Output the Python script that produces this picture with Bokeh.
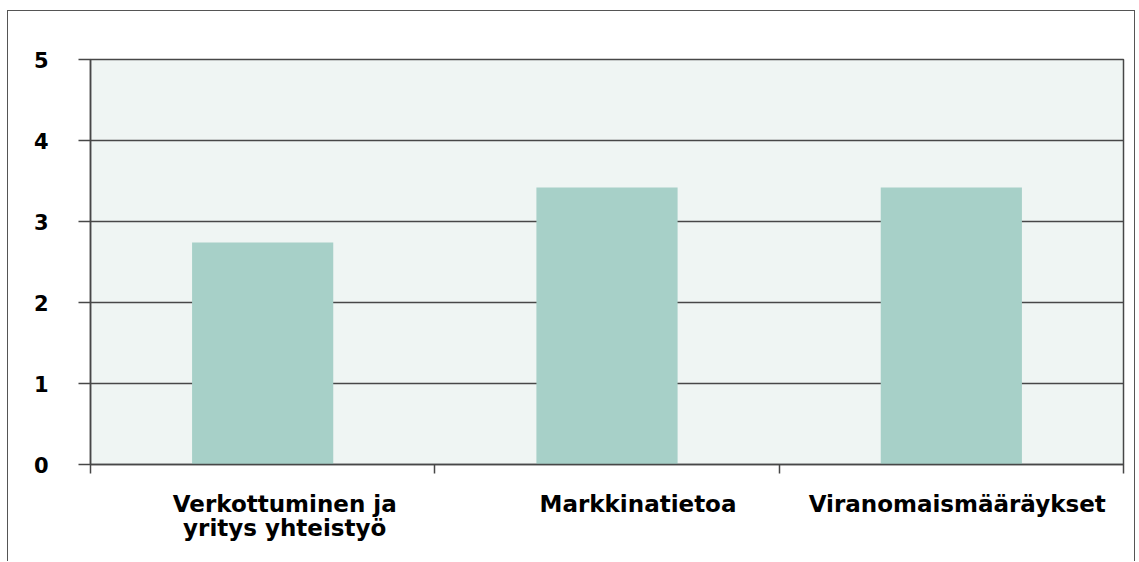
from bokeh.plotting import figure
from bokeh.models import FixedTicker, Range1d, ColumnDataSource
from bokeh.embed import file_html
from bokeh.resources import INLINE

# ---- data ----
categories = ["Verkottuminen ja\nyritys yhteistyö", "Markkinatietoa", "Viranomaismääräykset"]
values = [2.74, 3.42, 3.42]
y_ticks = [0, 1, 2, 3, 4, 5]

# ---- styling ----
FONT = "DejaVu Sans"
GRID = "#474747"
BAR = "#A7D0C8"
BG = "#EFF5F3"

n = len(categories)
x_centers = [i + 0.5 for i in range(n)]
label_offsets = [0.564, 0.590, 0.517]
label_x = [i + off for i, off in enumerate(label_offsets)]

p = figure(width=1128, height=551, output_backend="svg", toolbar_location=None,
           x_range=Range1d(0, n), y_range=Range1d(0, max(y_ticks)),
           min_border_left=82, min_border_right=13, min_border_top=48, min_border_bottom=98)
p.margin = (10, 0, 0, 7)
p.styles = {"border-left": "1px solid #555", "border-top": "1px solid #555",
            "border-right": "1px solid #555"}

p.background_fill_color = BG
p.border_fill_color = "white"
p.outline_line_color = GRID
p.outline_line_width = 1.5

src = ColumnDataSource(dict(x=x_centers, top=values))
p.vbar(x="x", top="top", width=0.41, bottom=0, source=src, fill_color=BAR, line_color=None)

# grid
p.xgrid.visible = False
p.ygrid.ticker = FixedTicker(ticks=y_ticks)
p.ygrid.grid_line_color = GRID
p.ygrid.grid_line_width = 1.5
p.ygrid.level = "underlay"

# y axis
ya = p.yaxis[0]
ya.ticker = FixedTicker(ticks=y_ticks)
ya.axis_line_color = GRID
ya.axis_line_width = 1.5
ya.major_tick_line_color = GRID
ya.major_tick_line_width = 1.5
ya.major_tick_out = 12
ya.major_tick_in = 0
ya.minor_tick_line_color = None
ya.major_label_standoff = 30
ya.major_label_text_font = FONT
ya.major_label_text_font_style = "bold"
ya.major_label_text_font_size = "21px"
ya.major_label_text_color = "black"

# x axis: boundary ticks as minor ticks, labels at label positions
xa = p.xaxis[0]
xa.ticker = FixedTicker(ticks=label_x, minor_ticks=list(range(n + 1)))
xa.major_label_overrides = {x: c for x, c in zip(label_x, categories)}
xa.axis_line_color = GRID
xa.axis_line_width = 1.5
xa.major_tick_line_color = None
xa.major_tick_out = 0
xa.major_tick_in = 0
xa.minor_tick_line_color = GRID
xa.minor_tick_line_width = 1.5
xa.minor_tick_out = 9
xa.minor_tick_in = 0
xa.major_label_standoff = 17
xa.major_label_text_font = FONT
xa.major_label_text_font_style = "bold"
xa.major_label_text_font_size = "23px"
xa.major_label_text_line_height = 0.95
xa.major_label_text_color = "black"

open("out.html", "w").write(file_html(p, INLINE))
